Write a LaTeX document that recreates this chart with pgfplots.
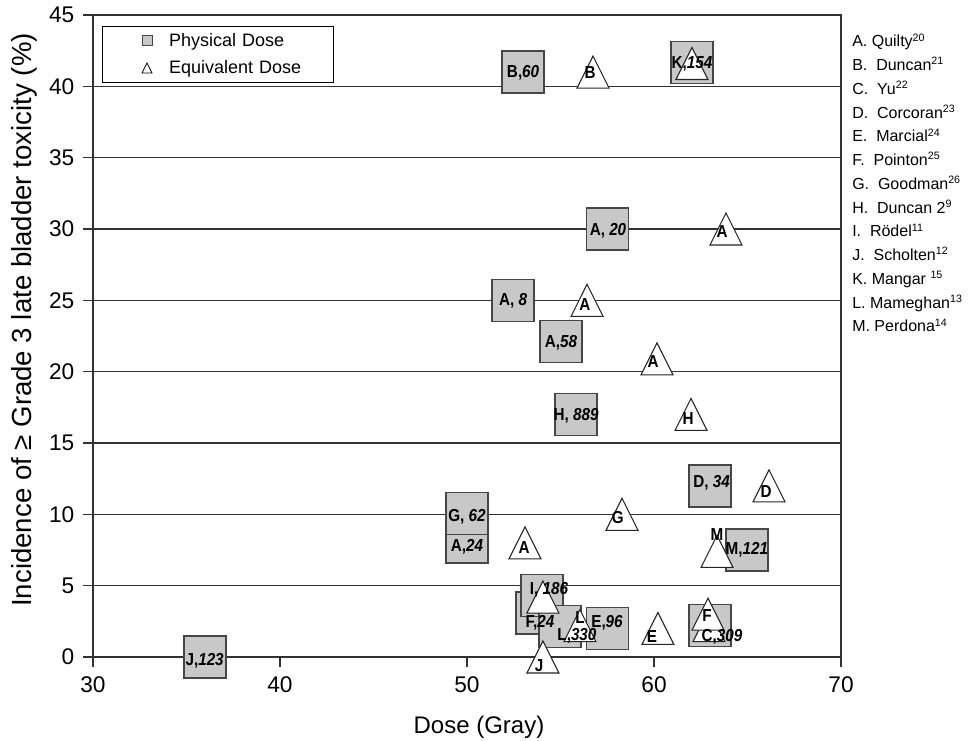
\documentclass[border=0pt]{standalone}
\usepackage{pgfplots}
\usepackage{pgfplotstable}
\pgfplotsset{compat=1.18}
\usepackage{fontspec}
\setmainfont{Liberation Sans}
\newfontfamily\labfont[FakeStretch=0.88]{Liberation Sans}

\definecolor{boxfill}{RGB}{200,200,200}
\definecolor{boxdraw}{RGB}{70,70,70}
\definecolor{linec}{RGB}{50,50,50}

% triangle centred on its bounding box (as in the original plot)
\pgfdeclareplotmark{tri}{%
  \pgfpathmoveto{\pgfqpoint{0pt}{\pgfplotmarksize}}%
  \pgfpathlineto{\pgfqpoint{-\pgfplotmarksize}{-\pgfplotmarksize}}%
  \pgfpathlineto{\pgfqpoint{\pgfplotmarksize}{-\pgfplotmarksize}}%
  \pgfpathclose
  \pgfusepathqfillstroke}

% physical dose (squares)
\pgfplotstableread{
x y
36.00 0.00
53.00 41.00
62.03 41.67
57.50 30.00
52.46 25.00
55.03 22.10
55.83 17.00
63.00 12.00
50.00 8.05
50.00 10.05
64.97 7.50
53.74 3.10
54.00 4.30
54.97 2.15
57.50 2.00
63.00 2.20
}\physical

% equivalent dose (triangles)
\pgfplotstableread{
x y
56.74 41.00
62.03 41.60
63.85 30.00
56.42 25.00
60.16 20.90
61.98 17.00
66.15 12.00
58.29 10.00
53.10 8.00
63.37 7.40
54.06 4.20
56.04 2.20
60.21 2.00
62.94 2.20
62.89 3.00
54.06 0.00
}\equivalent

\begin{document}
\begin{tikzpicture}
\useasboundingbox (-69.75pt,-63pt) rectangle (658.5pt,492.75pt);
\begin{axis}[
    name=ax,
    scale only axis,
    width=561pt, height=481.5pt,
    xmin=30, xmax=70, ymin=0, ymax=45,
    xtick={30,40,...,70}, ytick={0,5,...,45},
    tick pos=left,
    tick align=outside,
    major tick length=7.5pt,
    ymajorgrids,
    major grid style={line width=1pt, draw=linec},
    axis line style={line width=1pt, draw=linec},
    every tick/.style={line width=1pt, draw=linec},
    clip=false,
    /pgf/number format/assume math mode=true,
    ticklabel style={font=\fontsize{17}{20}\selectfont},
    xticklabel style={yshift=-4pt},
    yticklabel style={xshift=-3pt},
    xlabel={Dose (Gray)},
    ylabel={Incidence of ≥ Grade 3 late bladder toxicity (\%)},
    xlabel style={font=\fontsize{18}{21}\selectfont, at={(axis description cs:0.516,-0.1184)}, anchor=base},
    ylabel style={font=\fontsize{20.7}{24}\selectfont, at={(axis description cs:-0.082,0.525)}, anchor=base},
    legend style={at={(axis description cs:0.012,0.983)}, anchor=north west,
        draw=black, line width=0.75pt, fill=white,
        inner xsep=0pt, inner ysep=3pt, row sep=5.25pt,
        font=\fontsize{13.5}{16}\selectfont,
        /tikz/every even column/.append style={text width=121.5pt}},
    legend cell align=left,
    legend image code/.code={\path (0pt,0pt) (47.25pt,0pt); \draw[#1] plot coordinates {(33pt,0pt)};},
  ]
  \addlegendimage{only marks, mark=square*, mark size=3.75pt, mark options={fill=boxfill, draw=boxdraw, line width=0.6pt}}
  \addlegendentry{Physical Dose}
  \addlegendimage{only marks, mark=tri, mark size=3.75pt, mark options={fill=white, draw=black, line width=0.6pt}}
  \addlegendentry{Equivalent Dose}

  \addplot[forget plot, only marks, mark=square*, mark size=15.75pt,
      mark options={fill=boxfill, draw=boxdraw, line width=1.1pt}] table {\physical};
  \addplot[forget plot, only marks, mark=tri, mark size=12pt,
      mark options={fill=white, draw=black!85, line width=0.8pt}] table {\equivalent};

  % label positions (written on top after the axis is finished)
  \coordinate (s1) at (axis cs:35.97,-0.3);
  \coordinate (s2) at (axis cs:53.0,40.95);
  \coordinate (s3) at (axis cs:62.03,41.6);
  \coordinate (s4) at (axis cs:57.54,29.9);
  \coordinate (s5) at (axis cs:52.46,24.95);
  \coordinate (s6) at (axis cs:55.03,22.0);
  \coordinate (s7) at (axis cs:55.83,16.9);
  \coordinate (s8) at (axis cs:63.08,12.2);
  \coordinate (s9) at (axis cs:50.0,9.85);
  \coordinate (s10) at (axis cs:50.0,7.7);
  \coordinate (s11) at (axis cs:64.97,7.5);
  \coordinate (s12) at (axis cs:54.39,4.7);
  \coordinate (s13) at (axis cs:53.9,2.38);
  \coordinate (s14) at (axis cs:55.88,1.47);
  \coordinate (s15) at (axis cs:57.49,2.38);
  \coordinate (s16) at (axis cs:63.64,1.4);
  \coordinate (t1) at (axis cs:56.58,41.0);
  \coordinate (t2) at (axis cs:63.64,29.8);
  \coordinate (t3) at (axis cs:56.3,24.7);
  \coordinate (t4) at (axis cs:59.95,20.7);
  \coordinate (t5) at (axis cs:61.82,16.7);
  \coordinate (t6) at (axis cs:65.99,11.6);
  \coordinate (t7) at (axis cs:58.07,9.8);
  \coordinate (t8) at (axis cs:53.05,7.7);
  \coordinate (t9) at (axis cs:63.37,8.6);
  \coordinate (t10) at (axis cs:56.04,2.8);
  \coordinate (t11) at (axis cs:59.89,1.4);
  \coordinate (t12) at (axis cs:62.83,2.94);
  \coordinate (t13) at (axis cs:53.85,-0.63);
\end{axis}

\begin{scope}[every node/.style={font=\labfont\fontsize{13}{15}\selectfont\bfseries, inner sep=0pt}]
  % square labels: study, number of patients
  \node at (s1) {J,\textit{123}};
  \node at (s2) {B,\textit{60}};
  \node at (s3) {K,\textit{154}};
  \node at (s4) {A, \textit{20}};
  \node at (s5) {A, \textit{8}};
  \node at (s6) {A,\textit{58}};
  \node at (s7) {H, \textit{889}};
  \node at (s8) {D, \textit{34}};
  \node at (s9) {G, \textit{62}};
  \node at (s10) {A,\textit{24}};
  \node at (s11) {M,\textit{121}};
  \node at (s12) {I, \textit{186}};
  \node at (s13) {F,\textit{24}};
  \node at (s14) {L,\textit{330}};
  \node at (s15) {E,\textit{96}};
  \node at (s16) {C,\textit{309}};
  % triangle labels
  \node at (t1) {B};
  \node at (t2) {A};
  \node at (t3) {A};
  \node at (t4) {A};
  \node at (t5) {H};
  \node at (t6) {D};
  \node at (t7) {G};
  \node at (t8) {A};
  \node at (t9) {M};
  \node at (t10) {L};
  \node at (t11) {E};
  \node at (t12) {F};
  \node at (t13) {J};
\end{scope}

% key to the study letters
\foreach \t [count=\i from 0] in {
    A.\ Quilty\textsuperscript{20},
    B.\ \ Duncan\textsuperscript{21},
    C.\ \ Yu\textsuperscript{22},
    D.\ \ Corcoran\textsuperscript{23},
    E.\ \ Marcial\textsuperscript{24},
    F.\ \ Pointon\textsuperscript{25},
    G.\ \ Goodman\textsuperscript{26},
    H.\ \ Duncan 2\textsuperscript{9},
    I.\ \ Rödel\textsuperscript{11},
    J.\ \ Scholten\textsuperscript{12},
    K.\ Mangar \textsuperscript{15},
    L.\ Mameghan\textsuperscript{13},
    M.\ Perdona\textsuperscript{14}} {
  \node[anchor=base west, inner sep=0pt, font=\fontsize{12}{14}\selectfont]
    at ([xshift=8.25pt, yshift={-24pt-17.8125pt*\i}]ax.north east) {\t};
}
\end{tikzpicture}
\end{document}
